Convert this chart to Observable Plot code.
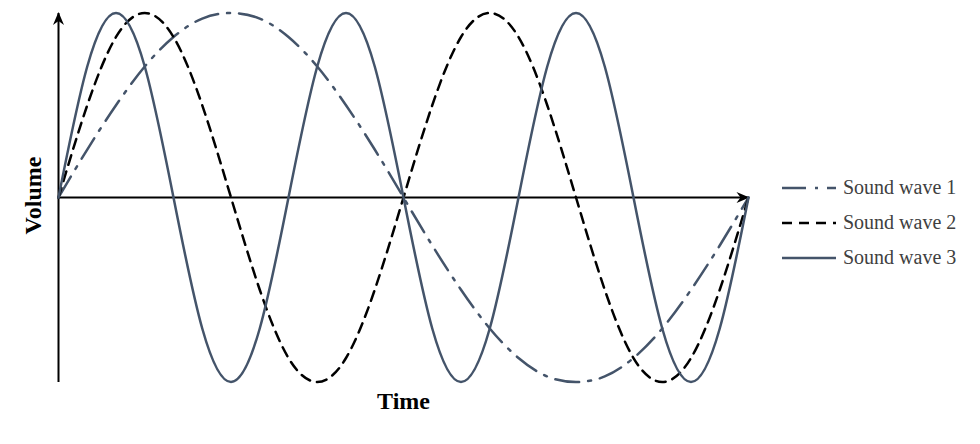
<!DOCTYPE html>
<html>
<head>
<meta charset="utf-8">
<script src="https://cdn.jsdelivr.net/npm/d3@7"></script>
<script src="https://cdn.jsdelivr.net/npm/@observablehq/plot@0.6"></script>
<style>
  html, body { margin: 0; padding: 0; background: #fff; }
  #wrap { position: relative; width: 980px; height: 444px; font-family: "Liberation Serif", "Times New Roman", serif; }
  #chart { position: absolute; left: 0; top: 0; }
  #legend { position: absolute; left: 782px; top: 170px; }
  .item { display: flex; align-items: center; height: 35px; font-size: 20px; color: #404040; }
  .item svg { margin-right: 5px; }
</style>
</head>
<body>
<div id="wrap">
  <div id="chart"></div>
  <div id="legend"></div>
</div>
<script>
// Time steps (24 equal steps across the axis)
const time = [0,1,2,3,4,5,6,7,8,9,10,11,12,13,14,15,16,17,18,19,20,21,22,23,24];
// Volume readings (relative amplitude)
const wave1 = [0,0.26,0.5,0.71,0.87,0.97,1,0.97,0.87,0.71,0.5,0.26,0,-0.26,-0.5,-0.71,-0.87,-0.97,-1,-0.97,-0.87,-0.71,-0.5,-0.26,0];
const wave2 = [0,0.5,0.87,1,0.87,0.5,0,-0.5,-0.87,-1,-0.87,-0.5,0,0.5,0.87,1,0.87,0.5,0,-0.5,-0.87,-1,-0.87,-0.5,0];
const wave3 = [0,0.71,1,0.71,0,-0.71,-1,-0.71,0,0.71,1,0.71,0,-0.71,-1,-0.71,0,0.71,1,0.71,0,-0.71,-1,-0.71,0];
const seriesNames = ["Sound wave 1", "Sound wave 2", "Sound wave 3"];
const seriesColors = ["#44546a", "#000000", "#44546a"];
const seriesDash = ["24,9,3,9", "10,7", null];
const xDomain = [0, 24];
const yDomain = [-1, 1];
const xLabel = "Time";
const yLabel = "Volume";

const waves = [wave1, wave2, wave3];
const rows = waves.flatMap((w, i) => time.map((t, k) => ({t, v: w[k], s: seriesNames[i]})));
const axes = [
  {x1: xDomain[0], y1: 0, x2: xDomain[1], y2: 0},
  {x1: xDomain[0], y1: yDomain[0], x2: xDomain[0], y2: yDomain[1]}
];

function arrowHead(color, context) {
  const ns = "http://www.w3.org/2000/svg";
  const m = document.createElementNS(ns, "marker");
  m.setAttribute("viewBox", "-13 -6 14 12");
  m.setAttribute("markerUnits", "userSpaceOnUse");
  m.setAttribute("markerWidth", 14);
  m.setAttribute("markerHeight", 12);
  m.setAttribute("orient", "auto");
  m.setAttribute("refX", 0);
  m.setAttribute("refY", 0);
  const p = document.createElementNS(ns, "path");
  p.setAttribute("d", "M1,0L-12,-5.5L-8,0L-12,5.5Z");
  p.setAttribute("fill", "#000");
  p.setAttribute("stroke", "none");
  m.appendChild(p);
  return m;
}

const plot = Plot.plot({
  width: 980,
  height: 444,
  marginLeft: 58,
  marginRight: 232,
  marginTop: 12.5,
  marginBottom: 62.5,
  x: {domain: xDomain, axis: null},
  y: {domain: yDomain, axis: null},
  style: {fontFamily: "Liberation Serif, Times New Roman, serif", background: "transparent"},
  marks: [
    Plot.link(axes, {x1: "x1", y1: "y1", x2: "x2", y2: "y2", stroke: "#000", strokeWidth: 2, markerEnd: arrowHead}),
    ...seriesNames.map((name, i) =>
      Plot.line(rows.filter(d => d.s === name), {
        x: "t", y: "v", curve: "natural",
        stroke: seriesColors[i], strokeWidth: 2.5,
        strokeDasharray: seriesDash[i] ?? undefined
      })
    ),
    Plot.text([yLabel], {frameAnchor: "left", textAnchor: "middle", dx: -25, dy: -2, rotate: -90, fontSize: 24, fontWeight: "bold", fill: "#000"}),
    Plot.text([xLabel], {frameAnchor: "bottom", lineAnchor: "bottom", dy: 26.5, fontSize: 24, fontWeight: "bold", fill: "#000"})
  ]
});
document.getElementById("chart").appendChild(plot);

const legend = document.getElementById("legend");
seriesNames.forEach((name, i) => {
  const item = document.createElement("div");
  item.className = "item";
  const dash = seriesDash[i] ? `stroke-dasharray="${seriesDash[i]}"` : "";
  item.innerHTML = `<svg width="56" height="10"><line x1="0" y1="5" x2="54" y2="5" stroke="${seriesColors[i]}" stroke-width="2.5" ${dash}/></svg><span>${name}</span>`;
  legend.appendChild(item);
});
</script>
</body>
</html>
